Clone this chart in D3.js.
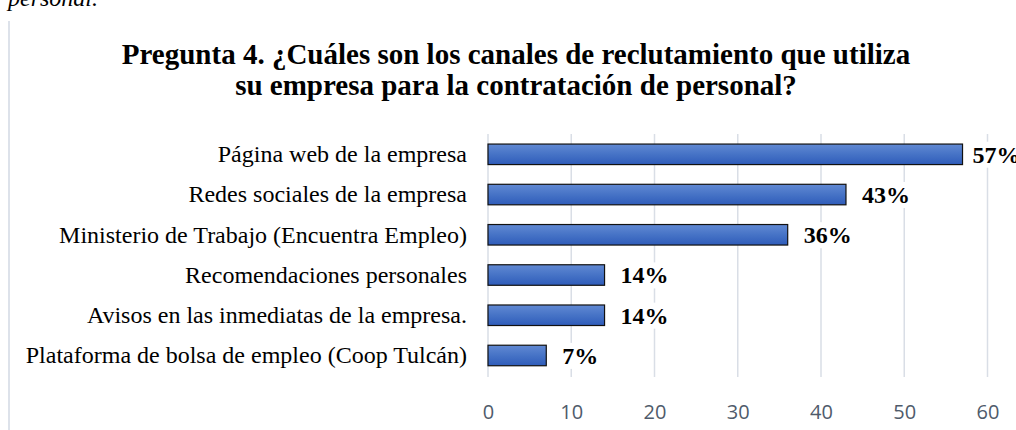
<!DOCTYPE html>
<html>
<head>
<meta charset="utf-8">
<script src="https://cdn.jsdelivr.net/npm/d3@7"></script>
<style>
  html, body { margin: 0; padding: 0; background: #fff; }
  svg { display: block; }
  .cat { font-family: "Liberation Serif", "Times New Roman", serif; font-size: 24px; fill: #000; }
  .val { font-family: "Liberation Serif", "Times New Roman", serif; font-size: 24px; font-weight: bold; fill: #000; }
  .title { font-family: "Liberation Serif", "Times New Roman", serif; font-size: 29px; font-weight: bold; fill: #000; }
  .x-axis text { font-family: "Open Sans", "Liberation Sans", sans-serif; font-size: 20px; fill: #4f5b6b; }
</style>
</head>
<body>
<div id="chart"></div>
<script>
// data
const categories = [
  "Página web de la empresa",
  "Redes sociales de la empresa",
  "Ministerio de Trabajo (Encuentra Empleo)",
  "Recomendaciones personales",
  "Avisos en las inmediatas de la empresa.",
  "Plataforma de bolsa de empleo (Coop Tulcán)"
];
const values = [57, 43, 36, 14, 14, 7];
const valueLabels = ["57%", "43%", "36%", "14%", "14%", "7%"];
const xTicks = [0, 10, 20, 30, 40, 50, 60];
const titleLines = [
  "Pregunta 4. ¿Cuáles son los canales de reclutamiento que utiliza",
  "su empresa para la contratación de personal?"
];

const width = 1016, height = 430;

const svg = d3.select("#chart").append("svg")
    .attr("width", width)
    .attr("height", height);

// gradient fill like the office bar style
const grad = svg.append("defs").append("linearGradient")
    .attr("id", "barGrad")
    .attr("x1", 0).attr("y1", 0).attr("x2", 0).attr("y2", 1);
grad.append("stop").attr("offset", "0%").attr("stop-color", "#6189d3");
grad.append("stop").attr("offset", "50%").attr("stop-color", "#4673c6");
grad.append("stop").attr("offset", "100%").attr("stop-color", "#2f5cba");

// caption left over from the document above the chart
svg.append("text")
    .attr("x", 8)
    .attr("y", 6)
    .style("font-family", "'Liberation Serif', serif")
    .style("font-style", "italic")
    .style("font-size", "24px")
    .text("personal.");

// left border of the chart area
svg.append("line")
    .attr("x1", 9).attr("x2", 9)
    .attr("y1", 21).attr("y2", height)
    .attr("stroke", "#dde2ea")
    .attr("stroke-width", 2);

// title
svg.append("text")
    .attr("class", "title")
    .attr("text-anchor", "middle")
    .selectAll("tspan")
    .data(titleLines)
    .join("tspan")
    .attr("x", 516)
    .attr("y", (d, i) => 64 + i * 31)
    .text(d => d);

const x = d3.scaleLinear().domain([0, 60]).range([488, 987.5]);
const y = d3.scaleBand().domain(categories).range([134.2, 375.6])
    .paddingInner(0.49).paddingOuter(0.245);

// gridlines
svg.append("g")
    .selectAll("line")
    .data(xTicks)
    .join("line")
    .attr("x1", d => x(d)).attr("x2", d => x(d))
    .attr("y1", 134).attr("y2", 377)
    .attr("stroke", "#d9dee6")
    .attr("stroke-width", 1.5);

// x axis labels
const xAxis = d3.axisBottom(x).tickValues(xTicks).tickSize(0).tickPadding(0);
const xAxisGroup = svg.append("g")
    .attr("class", "axis x-axis")
    .attr("transform", "translate(0,405)")
    .call(xAxis);
xAxisGroup.select(".domain").remove();

// bars
svg.append("g")
    .selectAll("rect")
    .data(values)
    .join("rect")
    .attr("x", x(0))
    .attr("y", (d, i) => y(categories[i]))
    .attr("width", d => x(d) - x(0))
    .attr("height", y.bandwidth())
    .attr("fill", "url(#barGrad)")
    .attr("stroke", "#111")
    .attr("stroke-width", 1.2);

// category labels
svg.append("g")
    .selectAll("text")
    .data(categories)
    .join("text")
    .attr("class", "cat")
    .attr("text-anchor", "end")
    .attr("x", x(0) - 21)
    .attr("y", d => y(d) + y.bandwidth() / 2)
    .attr("dy", "0.33em")
    .text(d => d);

// value labels with white backing, as in the reference
const labelG = svg.append("g");
values.forEach((v, i) => {
  const lx = Math.min(x(v) + 16, x(60) - 15);
  const ly = y(categories[i]) + y.bandwidth() / 2;
  const bg = labelG.append("rect").attr("fill", "#fff");
  const t = labelG.append("text")
      .attr("class", "val")
      .attr("x", lx)
      .attr("y", ly)
      .attr("dy", "0.35em")
      .text(valueLabels[i]);
  const bb = t.node().getBBox();
  bg.attr("x", bb.x - 2).attr("y", bb.y)
    .attr("width", bb.width + 4).attr("height", bb.height);
});
</script>
</body>
</html>
